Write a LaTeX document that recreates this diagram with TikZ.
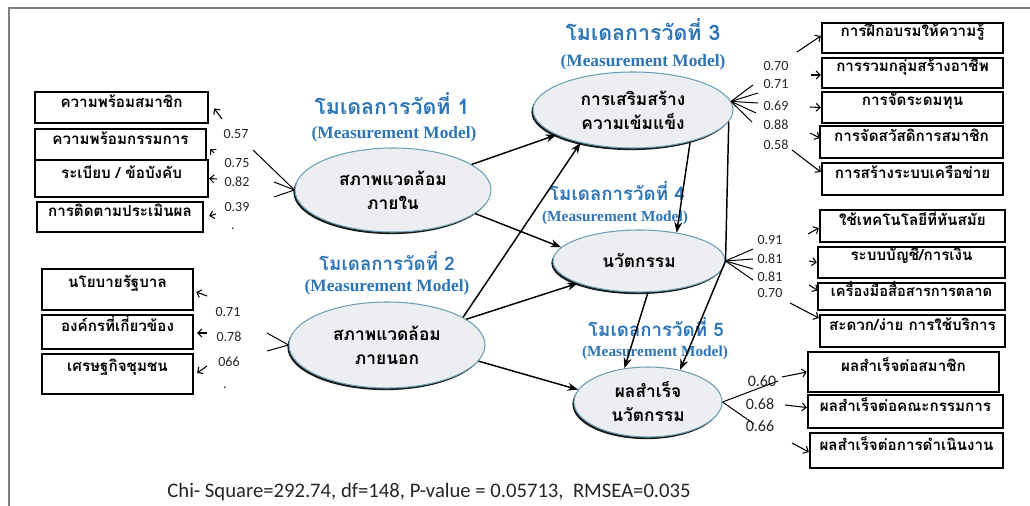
\documentclass[tikz,border=0pt]{standalone}
\usepackage{fontspec}
\setmainfont{Liberation Serif}
\newfontfamily\thaifont[Script=Thai]{Loma}
\newfontfamily\califont{Carlito}
\usetikzlibrary{shapes.geometric,arrows.meta,shadows,fit,calc}
\definecolor{hdrblue}{RGB}{46,117,182}
\definecolor{ellfill}{RGB}{236,238,241}
\definecolor{elldraw}{RGB}{110,160,180}
\definecolor{framegray}{RGB}{125,125,125}
\begin{document}
\begin{tikzpicture}[x=0.75pt,y=-0.75pt,
  latent/.style={ellipse, draw=elldraw, line width=0.8pt, fill=ellfill,
    drop shadow={shadow xshift=-1.2pt, shadow yshift=-1.6pt, fill=black, opacity=0.9},
    font=\thaifont\bfseries\fontsize{13}{18}\selectfont, align=center, inner sep=0pt},
  indbox/.style={draw=black, line width=1.8pt, fill=white, inner sep=0pt,
    font=\thaifont\bfseries\fontsize{11.4}{13}\selectfont},
  hdrbig/.style={text=hdrblue, font=\thaifont\bfseries\fontsize{16}{18}\selectfont},
  hdrsmall/.style={text=hdrblue, font=\thaifont\bfseries\fontsize{14}{16}\selectfont},
  mmbig/.style={text=hdrblue, font=\bfseries\fontsize{13}{15}\selectfont},
  mmsmall/.style={text=hdrblue, font=\bfseries\fontsize{11.5}{13}\selectfont},
  coef/.style={text=black!85, font=\califont\fontsize{10.5}{12}\selectfont, inner sep=0pt},
  coefbig/.style={text=black!85, font=\califont\fontsize{12}{14}\selectfont, inner sep=0pt},
  structarrow/.style={line width=1.1pt, -{Stealth[length=8pt,width=6pt]}},
  loadline/.style={line width=0.75pt},
  shortarrow/.style={line width=0.8pt, -{Straight Barb[length=3pt,width=6pt]}},
]
\useasboundingbox (0,0) rectangle (1030,506);
\fill[white] (0,0) rectangle (1030,506);
\draw[framegray, line width=1pt] (9,506) -- (9,8) -- (1030,8);

% ---------- latent variables ----------
\node[latent, minimum width=147pt, minimum height=63pt] (E1) at (393,190) {สภาพแวดล้อม\\ภายใน};
\node[latent, minimum width=147pt, minimum height=64.5pt] (E2) at (387,345) {สภาพแวดล้อม\\ภายนอก};
\node[latent, minimum width=150pt, minimum height=57pt] (E3) at (633,110) {การเสริมสร้าง\\ความเข้มแข็ง};
\node[latent, minimum width=129pt, minimum height=46.5pt] (E4) at (639,261) {นวัตกรรม};
\node[latent, minimum width=111pt, minimum height=52.5pt] (E5) at (648,402) {ผลสำเร็จ\\นวัตกรรม};

% ---------- headers ----------
\node[hdrbig] (H1) at (392,104) {โมเดลการวัดที่ 1};
\node[mmbig] (M1) at (394,134) {(Measurement Model)};
\node[hdrsmall] (H2) at (387,261) {โมเดลการวัดที่ 2};
\node[mmbig] (M2) at (387,287) {(Measurement Model)};
\node[hdrbig] (H3) at (643,30) {โมเดลการวัดที่ 3};
\node[mmbig] (M3) at (643,62) {(Measurement Model)};
\node[hdrsmall] (H4) at (617,191) {โมเดลการวัดที่ 4};
\node[mmsmall] (M4) at (615,218) {(Measurement Model)};
\node[hdrsmall] (H5) at (656,327) {โมเดลการวัดที่ 5};
\node[mmsmall] (M5) at (655,353) {(Measurement Model)};

% ---------- indicator boxes ----------
\node[indbox, fit={(35,92) (208,123)}] (A) {ความพร้อมสมาชิก};
\node[indbox, fit={(35,129) (206,160)}] (B) {ความพร้อมกรรมการ};
\node[indbox, fit={(35,160) (208,197)}] (C) {ระเบียบ / ข้อบังคับ};
\node[indbox, fit={(37,202) (203,232)}] (D) {การติดตามประเมินผล};

\node[indbox, fit={(42,269) (193,310)}] (N1) {นโยบายรัฐบาล};
\node[indbox, fit={(42,315) (193,349)}] (N2) {องค์กรที่เกี่ยวข้อง};
\node[indbox, fit={(42,354) (193,394)}] (N3) {เศรษฐกิจชุมชน};

\node[indbox, fit={(822,23) (1003,53)}] (R1) {การฝึกอบรมให้ความรู้};
\node[indbox, fit={(822,58) (1003,88)}] (R2) {การรวมกลุ่มสร้างอาชีพ};
\node[indbox, fit={(822,92) (1003,123)}] (R3) {การจัดระดมทุน};
\node[indbox, fit={(820,126) (1003,158)}] (R4) {การจัดสวัสดิการสมาชิก};
\node[indbox, fit={(822,163) (1003,195)}] (R5) {การสร้างระบบเครือข่าย};

\node[indbox, fit={(820,210) (1005,242)}] (S1) {ใช้เทคโนโลยีที่ทันสมัย};
\node[indbox, fit={(818,247) (1005,278)}] (S2) {ระบบบัญชี/การเงิน};
\node[indbox, fit={(818,283) (1005,310)}, font=\thaifont\bfseries\fontsize{11}{13}\selectfont] (S3) {เครื่องมือสื่อสารการตลาด};
\node[indbox, fit={(820,315) (1005,347)}] (S4) {สะดวก/ง่าย การใช้บริการ};

\node[indbox, fit={(808,352) (999,392)}] (T1) {ผลสำเร็จต่อสมาชิก};
\node[indbox, fit={(808,395) (1003,428)}] (T2) {ผลสำเร็จต่อคณะกรรมการ};
\node[indbox, fit={(810,433) (1003,468)}] (T3) {ผลสำเร็จต่อการดำเนินงาน};

% ---------- structural paths ----------
\draw[structarrow] (E1.18) -- (E3.198);
\draw[structarrow] (E2.20) -- (E3.212);
\draw[structarrow] (E1.-16) -- (E4.170);
\draw[structarrow] (E2.18) -- (E4.200);
\draw[structarrow] (E2.-10) -- (E5.170);
\draw[structarrow] (E3.-29) -- (E4.37);
\draw[structarrow] (E3.-7) -- (E4.east) -- (E5.45);
\draw[structarrow] (E4.-74) -- (E5.125);

% ---------- loadings: model 1 ----------
\coordinate (l1a) at (253,150);
\coordinate (l1b) at (274,182);
\coordinate (l1c) at (274,197);
\draw[loadline] (l1a) -- (E1.west);
\draw[loadline] (l1b) -- (E1.west);
\draw[loadline] (l1c) -- (E1.west);
\coordinate (a1) at (222,119);
\coordinate (b1) at (214,153);
\coordinate (c1) at (217,179);
\coordinate (d1) at (216,214);
\draw[shortarrow] (a1) -- ($(A.east)+(5,1)$);
\draw[shortarrow] (b1) -- ($(B.east)+(3,4.5)$);
\draw[shortarrow] (c1) -- (C.east);
\draw[shortarrow] (d1) -- ($(D.east)+(5,-1)$);
\node[coef] (k1) at (236,134) {0.57};
\node[coef] (k2) at (237,163) {0.75};
\node[coef] (k3) at (237,182) {0.82};
\node[coef] (k4) at (237,207) {0.39};
\node[coef] (p1) at (233,229) {.};

% ---------- loadings: model 2 ----------
\coordinate (l2a) at (267,333);
\coordinate (l2b) at (267,351);
\draw[loadline] (l2a) -- (E2.west);
\draw[loadline] (l2b) -- (E2.west);
\coordinate (n1) at (207,296);
\coordinate (n2) at (207,333);
\coordinate (n3) at (207,366);
\draw[shortarrow] (n1) -- ($(N1.east)+(2,2.5)$);
\draw[shortarrow] (n2) -- ($(N2.east)+(3,1)$);
\draw[shortarrow] (n3) -- ($(N3.east)+(3,-1)$);
\node[coef] (k5) at (228,312) {0.71};
\node[coef] (k6) at (229,337) {0.78};
\node[coef] (k7) at (229,362) {066};
\node[coef] (p2) at (225,388) {.};

% ---------- loadings: model 3 ----------
\coordinate (l3a) at (753,85);
\coordinate (l3b) at (758,93);
\coordinate (l3c) at (758,103);
\coordinate (l3d) at (756,113);
\coordinate (l3e) at (752,122);
\foreach \c in {l3a,l3b,l3c,l3d,l3e} \draw[loadline] (E3.5) -- (\c);
\coordinate (r1) at (797,52);
\coordinate (r2) at (811,75);
\coordinate (r3) at (810,107);
\coordinate (r4) at (810,133);
\coordinate (r5) at (792,150);
\draw[shortarrow] (r1) -- ($(R1.west)+(0,-2)$);
\draw[shortarrow] (r2) -- ($(R2.west)+(0,2)$);
\draw[shortarrow] (r3) -- (R3.west);
\draw[shortarrow] (r4) -- ($(R4.west)+(1,-4)$);
\draw[shortarrow] (r5) -- ($(R5.west)+(0,-7)$);
\node[coef] (k8) at (776,66) {0.70};
\node[coef] (k9) at (776,84) {0.71};
\node[coef] (k10) at (776,106) {0.69};
\node[coef] (k11) at (776,125) {0.88};
\node[coef] (k12) at (776,145) {0.58};

% ---------- loadings: model 4 ----------
\coordinate (l4a) at (753,249);
\coordinate (l4b) at (753,259);
\coordinate (l4c) at (753,269);
\coordinate (l4d) at (753,280);
\foreach \c in {l4a,l4b,l4c,l4d} \draw[loadline] (E4.east) -- (\c);
\coordinate (s1) at (808,234);
\coordinate (s2) at (809,261);
\coordinate (s3) at (809,285);
\coordinate (s4) at (790,303);
\draw[shortarrow] (s1) -- ($(S1.west)+(0,2)$);
\draw[shortarrow] (s2) -- (S2.west);
\draw[shortarrow] (s3) -- ($(S3.west)+(1,-6)$);
\draw[shortarrow] (s4) -- ($(S4.west)+(0,-13)$);
\node[coef] (k13) at (770,240) {0.91};
\node[coef] (k14) at (770,259) {0.81};
\node[coef] (k15) at (770,277) {0.81};
\node[coef] (k16) at (770,293) {0.70};

% ---------- loadings: model 5 ----------
\coordinate (l5a) at (778,381);
\coordinate (l5b) at (754,424);
\draw[loadline] (E5.east) -- (l5a);
\draw[loadline] (E5.east) -- (l5b);
\coordinate (t1) at (782,377);
\coordinate (t2) at (785,405);
\coordinate (t3) at (792,443);
\draw[shortarrow] (t1) -- (T1.west);
\draw[shortarrow] (t2) -- ($(T2.west)+(0,-4)$);
\draw[shortarrow] (t3) -- ($(T3.west)+(0,1.5)$);
\node[coefbig] (k17) at (762,381) {0.60};
\node[coefbig] (k18) at (760,404) {0.68};
\node[coefbig] (k19) at (760,426) {0.66};

% ---------- fit statistics ----------
\node[font=\califont\fontsize{15.5}{18}\selectfont, text=black!85] (fitstat) at (429,492)
  {Chi- Square=292.74, df=148, P-value = 0.05713,\ \ RMSEA=0.035};
\end{tikzpicture}
\end{document}
